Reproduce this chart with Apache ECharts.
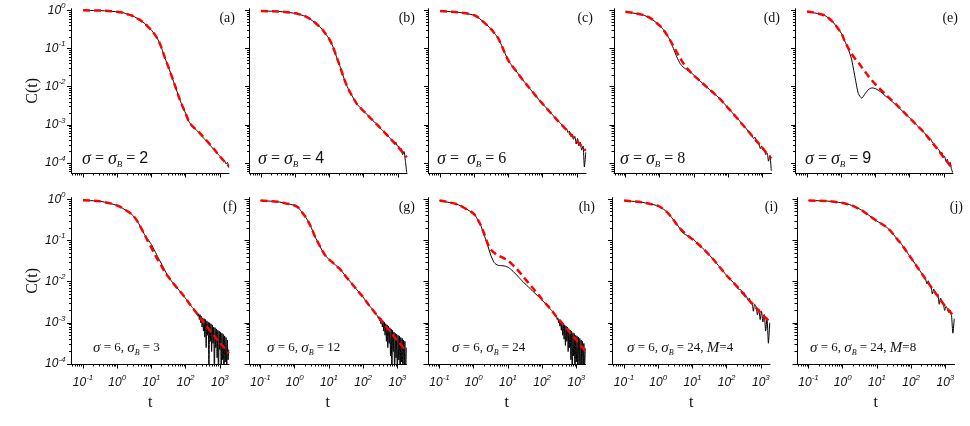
<!DOCTYPE html>
<html>
<head>
<meta charset="utf-8">
<script src="https://cdn.jsdelivr.net/npm/echarts@6/dist/echarts.min.js"></script>
<style>
  html, body { margin: 0; padding: 0; background: #fff; }
  #chart { width: 970px; height: 426px; }
</style>
</head>
<body>
<div id="chart"></div>
<script>
// shared time grids
const tHead = [0.1, 0.32, 0.56, 1, 1.26, 1.58, 2, 2.51, 3.16, 3.98, 5.01, 6.31, 7.94, 10, 12.6, 15.8, 20, 25.1, 31.6, 39.8, 50.1, 63.1, 79.4, 100, 126, 158];
const tFitEnd = [251, 398, 631, 1000, 1820];
const tTail = [200, 219, 240, 263, 288, 316, 347, 380, 417, 457, 501, 550, 603, 661, 724, 794, 871, 955, 1047, 1148, 1259, 1380, 1514, 1660, 1820];
const tTailDense = [200, 209, 219, 229, 240, 251, 263, 275, 288, 302, 316, 331, 347, 363, 380, 398, 417, 437, 457, 479, 501, 525, 550, 575, 603, 631, 661, 692, 724, 759, 794, 832, 871, 912, 955, 1000, 1047, 1096, 1148, 1202, 1259, 1318, 1380, 1445, 1514, 1585, 1660, 1738, 1820];

// tick positions / labels
const xMajor = [0.1, 1, 10, 100, 1000];
const yMajor = [1e-4, 1e-3, 1e-2, 1e-1, 1];

// fitted curves (red dashed): fitX on tHead, fitEndX on tFitEnd
const fitA = [1, 0.98, 0.955, 0.91, 0.89, 0.85, 0.79, 0.74, 0.68, 0.60, 0.53, 0.45, 0.37, 0.30, 0.23, 0.166, 0.1, 0.055, 0.032, 0.018, 0.01, 5.4e-3, 3.2e-3, 2.0e-3, 1.2e-3, 9.3e-4];
const fitEndA = [6.3e-4, 4.0e-4, 2.5e-4, 1.5e-4, 8.3e-5];
const fitB = [0.955, 0.933, 0.891, 0.832, 0.794, 0.741, 0.692, 0.617, 0.537, 0.457, 0.380, 0.309, 0.234, 0.174, 0.112, 0.063, 0.0355, 0.0191, 0.011, 7.2e-3, 5.0e-3, 3.55e-3, 2.82e-3, 2.29e-3, 1.86e-3, 1.51e-3];
const fitEndB = [1.0e-3, 6.5e-4, 4.2e-4, 2.7e-4, 1.41e-4];
const fitC = [0.955, 0.891, 0.832, 0.741, 0.661, 0.562, 0.468, 0.389, 0.316, 0.245, 0.186, 0.120, 0.0741, 0.0479, 0.0355, 0.0275, 0.0209, 0.0158, 0.0123, 9.5e-3, 7.4e-3, 5.75e-3, 4.47e-3, 3.55e-3, 2.82e-3, 2.24e-3];
const fitEndC = [1.41e-3, 9.1e-4, 5.9e-4, 3.8e-4, 2.1e-4];
const fitD = [0.912, 0.759, 0.603, 0.398, 0.316, 0.234, 0.166, 0.115, 0.0794, 0.055, 0.0398, 0.0302, 0.024, 0.0195, 0.0162, 0.0135, 0.0112, 9.3e-3, 7.8e-3, 6.5e-3, 5.4e-3, 4.4e-3, 3.5e-3, 2.75e-3, 2.19e-3, 1.74e-3];
const fitEndD = [1.07e-3, 6.6e-4, 4.1e-4, 2.5e-4, 1.32e-4];
const fitE = [0.933, 0.741, 0.501, 0.251, 0.158, 0.105, 0.0724, 0.055, 0.0427, 0.0324, 0.0245, 0.0186, 0.0145, 0.0115, 9.3e-3, 7.6e-3, 6.3e-3, 5.1e-3, 4.2e-3, 3.5e-3, 2.82e-3, 2.29e-3, 1.86e-3, 1.51e-3, 1.23e-3, 1.0e-3];
const fitEndE = [6.6e-4, 4.0e-4, 2.4e-4, 1.38e-4, 7.1e-5];
const fitF = [0.955, 0.891, 0.813, 0.708, 0.646, 0.575, 0.513, 0.447, 0.372, 0.282, 0.2, 0.138, 0.0955, 0.0661, 0.0457, 0.0324, 0.0234, 0.0166, 0.0129, 0.01, 7.9e-3, 6.3e-3, 5.0e-3, 3.9e-3, 3.0e-3, 2.34e-3];
const fitEndF = [1.41e-3, 8.5e-4, 5.25e-4, 3.3e-4, 1.82e-4];
const fitG = [0.933, 0.871, 0.794, 0.708, 0.631, 0.501, 0.389, 0.282, 0.191, 0.120, 0.0832, 0.0575, 0.0427, 0.0347, 0.0295, 0.0251, 0.0209, 0.017, 0.0132, 0.0105, 8.3e-3, 6.6e-3, 5.25e-3, 4.2e-3, 3.2e-3, 2.5e-3];
const fitEndG = [1.55e-3, 9.5e-4, 6.0e-4, 3.7e-4, 2.1e-4];
const fitH = [0.933, 0.759, 0.603, 0.447, 0.339, 0.240, 0.148, 0.087, 0.060, 0.0501, 0.0437, 0.0398, 0.0363, 0.0324, 0.0275, 0.0229, 0.0186, 0.0148, 0.0117, 9.3e-3, 7.4e-3, 5.9e-3, 4.7e-3, 3.7e-3, 2.95e-3, 2.4e-3];
const fitEndH = [1.48e-3, 9.5e-4, 6.0e-4, 3.8e-4, 2.1e-4];
const fitI = [0.933, 0.851, 0.776, 0.692, 0.617, 0.537, 0.447, 0.355, 0.275, 0.214, 0.174, 0.145, 0.123, 0.107, 0.0912, 0.0776, 0.0646, 0.0537, 0.0437, 0.0355, 0.0282, 0.0224, 0.0178, 0.0141, 0.0115, 9.5e-3];
const fitEndI = [6.2e-3, 4.0e-3, 2.63e-3, 1.74e-3, 1.05e-3];
const fitJ = [0.933, 0.912, 0.871, 0.813, 0.776, 0.741, 0.692, 0.631, 0.575, 0.513, 0.447, 0.389, 0.339, 0.295, 0.263, 0.234, 0.204, 0.170, 0.135, 0.105, 0.0851, 0.0646, 0.049, 0.0372, 0.0282, 0.0214];
const fitEndJ = [0.0123, 7.1e-3, 4.2e-3, 2.5e-3, 1.41e-3];

// simulation data (black): head on tHead where it departs from the fit, tail on tTail / tTailDense
const headD = [0.912, 0.759, 0.603, 0.398, 0.316, 0.234, 0.166, 0.1, 0.060, 0.0398, 0.0316, 0.0275, 0.024, 0.02, 0.0162, 0.0135, 0.0112, 9.3e-3, 7.8e-3, 6.5e-3, 5.4e-3, 4.4e-3, 3.5e-3, 2.75e-3, 2.19e-3, 1.74e-3];
const headE = [0.933, 0.741, 0.501, 0.251, 0.158, 0.1, 0.0525, 0.0182, 6.6e-3, 5.0e-3, 6.6e-3, 8.5e-3, 9.3e-3, 8.9e-3, 7.9e-3, 6.8e-3, 5.6e-3, 4.8e-3, 4.0e-3, 3.3e-3, 2.75e-3, 2.24e-3, 1.86e-3, 1.51e-3, 1.23e-3, 1.0e-3];
const headF = [0.955, 0.891, 0.813, 0.708, 0.646, 0.575, 0.513, 0.447, 0.372, 0.282, 0.2, 0.138, 0.105, 0.0794, 0.055, 0.038, 0.0263, 0.0182, 0.0129, 0.01, 7.9e-3, 6.3e-3, 5.0e-3, 3.9e-3, 3.0e-3, 2.34e-3];
const headH = [0.933, 0.759, 0.603, 0.447, 0.339, 0.240, 0.138, 0.0794, 0.0437, 0.0288, 0.0251, 0.0245, 0.024, 0.0224, 0.0195, 0.0162, 0.0132, 0.0107, 8.9e-3, 7.4e-3, 6.2e-3, 5.1e-3, 4.3e-3, 3.55e-3, 2.9e-3, 2.34e-3];
const headI = [0.933, 0.851, 0.776, 0.692, 0.617, 0.537, 0.447, 0.355, 0.275, 0.214, 0.158, 0.138, 0.126, 0.112, 0.0933, 0.0776, 0.0646, 0.0537, 0.0437, 0.0355, 0.0282, 0.0224, 0.0178, 0.0141, 0.0115, 9.5e-3];

const tailA = [7.6e-4, 6.9e-4, 6.3e-4, 5.75e-4, 5.25e-4, 4.8e-4, 4.37e-4, 3.98e-4, 3.63e-4, 3.31e-4, 3.02e-4, 2.75e-4, 2.51e-4, 2.29e-4, 2.09e-4, 1.91e-4, 1.74e-4, 1.58e-4, 1.45e-4, 1.32e-4, 1.2e-4, 1.15e-4, 9.5e-5, 1.05e-4, 7.6e-5];
const tailB = [1.23e-3, 1.12e-3, 1.05e-3, 9.5e-4, 8.7e-4, 7.9e-4, 7.4e-4, 6.8e-4, 6.2e-4, 5.6e-4, 5.25e-4, 4.8e-4, 4.4e-4, 4.0e-4, 3.7e-4, 3.16e-4, 3.55e-4, 2.82e-4, 2.75e-4, 2.19e-4, 2.4e-4, 1.66e-4, 2.0e-4, 1.12e-4, 5.6e-5];
const tailC = [1.78e-3, 1.62e-3, 1.48e-3, 1.35e-3, 1.26e-3, 1.15e-3, 1.05e-3, 9.5e-4, 8.7e-4, 7.6e-4, 7.9e-4, 6.3e-4, 6.9e-4, 5.0e-4, 5.75e-4, 4.2e-4, 5.0e-4, 3.16e-4, 4.4e-4, 2.82e-4, 3.55e-4, 2.19e-4, 2.82e-4, 7.9e-5, 1.91e-4];
const tailD = [1.38e-3, 1.26e-3, 1.12e-3, 1.02e-3, 9.3e-4, 8.5e-4, 7.8e-4, 6.9e-4, 6.6e-4, 5.5e-4, 5.25e-4, 4.4e-4, 4.8e-4, 3.55e-4, 3.6e-4, 3.16e-4, 2.4e-4, 2.82e-4, 2.19e-4, 2.29e-4, 1.66e-4, 1.82e-4, 1.12e-4, 1.58e-4, 6.3e-5];
const tailE = [8.1e-4, 7.4e-4, 6.9e-4, 6.3e-4, 5.75e-4, 5.1e-4, 4.7e-4, 4.3e-4, 4.2e-4, 3.5e-4, 3.3e-4, 2.75e-4, 2.63e-4, 2.4e-4, 2.19e-4, 1.82e-4, 1.91e-4, 1.45e-4, 1.51e-4, 1.12e-4, 1.26e-4, 8.9e-5, 1.05e-4, 7.1e-5, 5.6e-5];
const tailF = [1.91e-3, 1.66e-3, 1.74e-3, 1.45e-3, 1.66e-3, 1.2e-3, 1.58e-3, 1.0e-3, 1.45e-3, 7.9e-4, 1.32e-3, 6.3e-4, 1.26e-3, 4.5e-4, 1.2e-3, 2.5e-4, 1.12e-3, 5.0e-4, 1.05e-3, 5.0e-5, 1.0e-3, 3.55e-4, 9.5e-4, 2.0e-4, 8.9e-4, 3.16e-4, 7.9e-4, 4.0e-5, 7.6e-4, 2.5e-4, 7.1e-4, 1.41e-4, 6.6e-4, 3.2e-5, 6.3e-4, 2.24e-4, 6.0e-4, 4.0e-5, 5.6e-4, 1.26e-4, 5.25e-4, 3.2e-5, 4.8e-4, 1.12e-4, 4.4e-4, 4.0e-5, 3.8e-4, 1.26e-4, 2.24e-4];
const tailG = [2.0e-3, 1.86e-3, 1.82e-3, 1.66e-3, 1.66e-3, 1.51e-3, 1.48e-3, 1.32e-3, 1.41e-3, 1.12e-3, 1.32e-3, 9.5e-4, 1.26e-3, 7.9e-4, 1.12e-3, 6.3e-4, 1.05e-3, 5.0e-4, 9.5e-4, 3.55e-4, 8.9e-4, 2.5e-4, 8.3e-4, 3.16e-4, 7.6e-4, 1.58e-4, 7.1e-4, 4.0e-5, 6.6e-4, 2.0e-4, 6.0e-4, 3.2e-5, 5.6e-4, 1.41e-4, 5.25e-4, 4.0e-5, 5.0e-4, 1.26e-4, 4.8e-4, 3.2e-5, 4.4e-4, 1.12e-4, 4.2e-4, 4.0e-5, 3.8e-4, 1.0e-4, 3.55e-4, 3.2e-5, 2.5e-4];
const tailH = [1.91e-3, 1.78e-3, 1.74e-3, 1.58e-3, 1.58e-3, 1.38e-3, 1.45e-3, 1.2e-3, 1.32e-3, 1.0e-3, 1.2e-3, 8.3e-4, 1.12e-3, 6.6e-4, 1.05e-3, 5.0e-4, 9.5e-4, 4.0e-4, 8.9e-4, 2.82e-4, 8.3e-4, 3.55e-4, 7.9e-4, 2.0e-4, 7.2e-4, 2.5e-4, 6.6e-4, 1.26e-4, 6.3e-4, 4.0e-5, 5.75e-4, 1.58e-4, 5.5e-4, 3.2e-5, 5.0e-4, 1.12e-4, 4.8e-4, 4.0e-5, 4.5e-4, 1.0e-4, 4.2e-4, 3.2e-5, 3.8e-4, 1.0e-4, 3.55e-4, 4.0e-5, 3.16e-4, 7.9e-5, 2.4e-4];
const tailI = [7.6e-3, 6.6e-3, 6.5e-3, 6.3e-3, 5.0e-3, 5.6e-3, 4.2e-3, 4.4e-3, 3.6e-3, 4.0e-3, 3.0e-3, 3.2e-3, 1.91e-3, 2.82e-3, 2.4e-3, 1.58e-3, 2.19e-3, 1.2e-3, 1.91e-3, 1.05e-3, 1.58e-3, 6.3e-4, 1.32e-3, 3.2e-4, 1.0e-3];
const tailJ = [0.0162, 0.0145, 0.0132, 0.0117, 8.9e-3, 0.0105, 8.3e-3, 7.9e-3, 5.0e-3, 6.6e-3, 5.5e-3, 4.6e-3, 5.0e-3, 2.82e-3, 4.0e-3, 3.3e-3, 3.0e-3, 2.0e-3, 2.5e-3, 2.19e-3, 1.78e-3, 2.0e-3, 1.51e-3, 5.6e-4, 1.26e-3];

const panelTags = ['(a)', '(b)', '(c)', '(d)', '(e)', '(f)', '(g)', '(h)', '(i)', '(j)'];
const panelNotes = [
  '{i|σ} = {i|σ}{s|B} = {n|2}',
  '{i|σ} = {i|σ}{s|B} = {n|4}',
  '{i|σ} =  {i|σ}{s|B} = 6',
  '{i|σ} = {i|σ}{s|B} = 8',
  '{i|σ} = {i|σ}{s|B} = {n|9}',
  '{i|σ} = 6, {i|σ}{s|B} = 3',
  '{i|σ} = 6, {i|σ}{s|B} = 12',
  '{i|σ} = 6, {i|σ}{s|B} = 24',
  '{i|σ} = 6, {i|σ}{s|B} = 24, {i|M}=4',
  '{i|σ} = 6, {i|σ}{s|B} = 24, {i|M}=8'
];

const fits = [fitA, fitB, fitC, fitD, fitE, fitF, fitG, fitH, fitI, fitJ];
const fitEnds = [fitEndA, fitEndB, fitEndC, fitEndD, fitEndE, fitEndF, fitEndG, fitEndH, fitEndI, fitEndJ];
const heads = [fitA, fitB, fitC, headD, headE, headF, fitG, headH, headI, fitJ];
const tails = [tailA, tailB, tailC, tailD, tailE, tailF, tailG, tailH, tailI, tailJ];
const tailGrids = [tTail, tTail, tTail, tTail, tTail, tTailDense, tTailDense, tTailDense, tTail, tTail];

// minor tick positions (2..9 per decade)
const xMinor = [], yMinor = [];
[0.01, 0.1, 1, 10, 100].forEach(d => { for (let k = 2; k <= 9; k++) xMinor.push(+(k * d).toPrecision(3)); });
[1e-5, 1e-4, 1e-3, 1e-2, 1e-1].forEach(d => { for (let k = 2; k <= 9; k++) yMinor.push(+(k * d).toPrecision(3)); });

const xMin = 0.046, xMax = 1850;
const lefts = [[71.5, 249.5, 428.5, 614, 795.5], [71.5, 249, 428, 612.5, 797]];
const rowTop = [8.7, 197.6];
const rowH = [164.3, 166.4];
const rowYMin = [5.5e-5, 1e-4];
const plotW = 157.5;
const tagRight = [[235, 415, 593, 780, 958], [237, 415, 595, 778, 963]];
const noteX = [[82, 258, 437, 620, 805], [93, 267, 452, 627, 810]];
const noteY = [159, 348];

const labelRich = {
  b: { fontFamily: 'Liberation Sans', fontStyle: 'italic', fontSize: 12, color: '#111' },
  e: { fontFamily: 'Liberation Sans', fontStyle: 'italic', fontSize: 8, color: '#111', padding: [0, 0, 9, 0] }
};
const powLabel = v => '{b|10}{e|' + Math.round(Math.log10(v)) + '}';

const grids = [], xAxes = [], yAxes = [], series = [], graphics = [];

fits.forEach((fit, i) => {
  const row = i < 5 ? 0 : 1, col = i % 5;
  grids.push({ left: lefts[row][col], top: rowTop[row], width: plotW, height: rowH[row] });

  const showX = row === 1, showY = col === 0;
  const line = { show: true, onZero: false, lineStyle: { color: '#000', width: 1 } };

  xAxes.push({
    gridIndex: i, type: 'log', min: xMin, max: xMax, position: 'bottom',
    axisLine: line,
    axisTick: { show: true, inside: false, length: 4.5, customValues: xMajor, lineStyle: { color: '#000' } },
    axisLabel: { show: showX, customValues: xMajor, margin: 10, formatter: powLabel, rich: labelRich },
    splitLine: { show: false },
    name: showX ? 't' : '', nameLocation: 'middle', nameGap: 31,
    nameTextStyle: { fontFamily: 'Liberation Serif', fontSize: 16, color: '#111' }
  });
  xAxes.push({
    gridIndex: i, type: 'log', min: xMin, max: xMax, position: 'bottom',
    axisLine: { show: false },
    axisTick: { show: true, inside: false, length: 2.5, customValues: xMinor, lineStyle: { color: '#000' } },
    axisLabel: { show: false }, splitLine: { show: false }
  });
  yAxes.push({
    gridIndex: i, type: 'log', min: rowYMin[row], max: 1.1, position: 'left',
    axisLine: line,
    axisTick: { show: true, inside: false, length: 4.5, customValues: yMajor, lineStyle: { color: '#000' } },
    axisLabel: { show: showY, customValues: yMajor, margin: 6, formatter: powLabel, rich: labelRich },
    splitLine: { show: false },
    name: showY ? 'C(t)' : '', nameLocation: 'middle', nameGap: 29,
    nameTextStyle: { fontFamily: 'Liberation Serif', fontSize: 16, color: '#111' }
  });
  yAxes.push({
    gridIndex: i, type: 'log', min: rowYMin[row], max: 1.1, position: 'left',
    axisLine: { show: false },
    axisTick: { show: true, inside: false, length: 2.5, customValues: yMinor, lineStyle: { color: '#000' } },
    axisLabel: { show: false }, splitLine: { show: false }
  });

  const black = tHead.map((t, k) => [t, heads[i][k]])
    .concat(tailGrids[i].map((t, k) => [t, tails[i][k]]));
  const red = tHead.map((t, k) => [t, fit[k]])
    .concat(tFitEnd.map((t, k) => [t, fitEnds[i][k]]));

  series.push({
    type: 'line', xAxisIndex: 2 * i, yAxisIndex: 2 * i, data: black,
    showSymbol: false, smooth: 0.2, clip: true, z: 2,
    lineStyle: { color: '#000', width: 1 }
  });
  series.push({
    type: 'line', xAxisIndex: 2 * i, yAxisIndex: 2 * i, data: red,
    showSymbol: false, smooth: 0.3, clip: true, z: 3,
    lineStyle: { color: '#ff0000', width: 2.5, type: [7, 4] }
  });

  graphics.push({
    type: 'text', x: tagRight[row][col], y: row === 0 ? 18 : 207,
    style: { text: panelTags[i], fontFamily: 'Liberation Serif', fontSize: 14, fill: '#111', align: 'right', verticalAlign: 'middle' }
  });
  const big = row === 0;
  graphics.push({
    type: 'text', x: noteX[row][col], y: noteY[row],
    style: {
      text: panelNotes[i], fontFamily: 'Liberation Serif', fontSize: big ? 16 : 13, fill: '#111',
      align: 'left', verticalAlign: 'middle',
      rich: {
        i: { fontFamily: 'Liberation Serif', fontStyle: 'italic', fontSize: big ? 18 : 15, fill: '#111' },
        s: { fontFamily: 'Liberation Serif', fontStyle: 'italic', fontSize: big ? 9 : 8, fill: '#111', padding: [big ? 11 : 9, 0, 0, 0] },
        n: { fontFamily: 'Liberation Sans', fontSize: 16, fill: '#111' }
      }
    }
  });
});

const chart = echarts.init(document.getElementById('chart'), null, { renderer: 'canvas' });
chart.setOption({
  animation: false,
  backgroundColor: '#fff',
  grid: grids,
  xAxis: xAxes,
  yAxis: yAxes,
  series: series,
  graphic: graphics
});
window.addEventListener('resize', chart.resize);
</script>
</body>
</html>
